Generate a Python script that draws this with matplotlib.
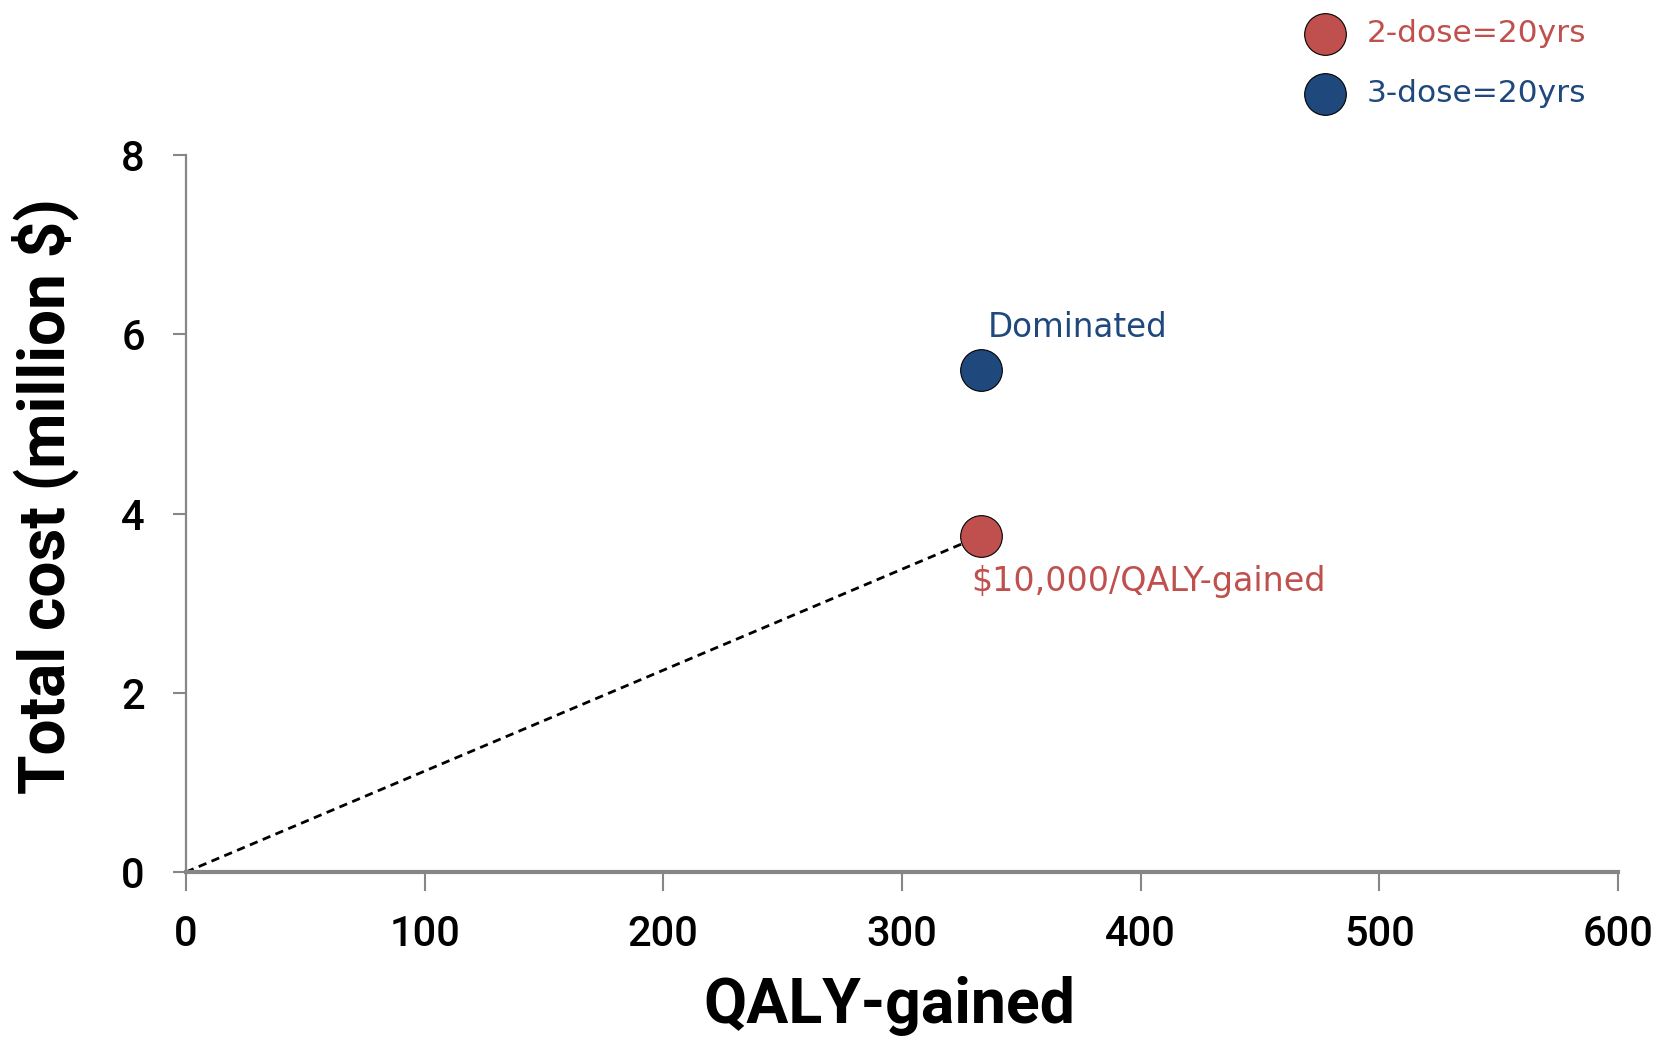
import matplotlib
matplotlib.use("Agg")
import matplotlib.pyplot as plt

# Data
series_names = ["2-dose=20yrs", "3-dose=20yrs"]
series_colors = ["#C0504D", "#1F497D"]
qaly_gained = [333, 333]
total_cost = [3.75, 5.6]
annotations = ["$10,000/QALY-gained", "Dominated"]

x_ticks = [0, 100, 200, 300, 400, 500, 600]
y_ticks = [0, 2, 4, 6, 8]

axis_gray = "#868686"

fig = plt.figure(figsize=(16.6, 10.4), dpi=100)
ax = fig.add_axes([0.112, 0.1615, 0.8627, 0.6895])

# Dashed line from origin to the 2-dose point
ax.plot([0, qaly_gained[0]], [0, total_cost[0]], linestyle=(0, (3, 2)),
        color="black", linewidth=2.0, zorder=2)

# Points
for name, color, x, y in zip(series_names, series_colors, qaly_gained, total_cost):
    ax.scatter([x], [y], s=900, color=color, edgecolors="black",
               linewidths=0.8, label=name, zorder=3, clip_on=False)

# Point labels
ax.annotate(annotations[0], xy=(qaly_gained[0], total_cost[0]),
            xytext=(-6.5, -33), textcoords="offset points",
            ha="left", va="center", fontsize=24, color=series_colors[0],
            family="DejaVu Sans")
ax.annotate(annotations[1], xy=(qaly_gained[1], total_cost[1]),
            xytext=(5, 31), textcoords="offset points",
            ha="left", va="center", fontsize=23.5, color=series_colors[1],
            family="DejaVu Sans")

ax.set_xlim(0, 600)
ax.set_ylim(0, 8)
ax.set_xticks(x_ticks)
ax.set_yticks(y_ticks)

for side in ["top", "right"]:
    ax.spines[side].set_visible(False)
ax.spines["bottom"].set_color(axis_gray)
ax.spines["bottom"].set_linewidth(3.0)
ax.spines["left"].set_color(axis_gray)
ax.spines["left"].set_linewidth(1.6)

ax.tick_params(axis="x", direction="out", length=14, width=1.5, color=axis_gray,
               pad=16, labelsize=30)
ax.tick_params(axis="y", direction="out", length=9.5, width=1.5, color=axis_gray,
               pad=20, labelsize=30)
for lbl in ax.get_xticklabels() + ax.get_yticklabels():
    lbl.set_family("Roboto")
    lbl.set_fontweight("medium")

ax.set_xlabel("QALY-gained", fontsize=45, fontweight="bold", family="Roboto",
              va="center")
ax.xaxis.set_label_coords(0.491, -0.187)
ax.set_ylabel("Total cost (million $)", fontsize=46, fontweight="bold",
              family="Roboto", va="center")
ax.yaxis.set_label_coords(-0.0985, 0.524)

# Legend at the top right
leg = fig.legend(loc="upper left", bbox_to_anchor=(0.766, 1.003), frameon=False,
                 markerscale=1.0, handletextpad=0.35,
                 labelspacing=1.0, borderaxespad=0.3,
                 prop={"family": "DejaVu Sans", "size": 22.5})
for txt, color in zip(leg.get_texts(), series_colors):
    txt.set_color(color)

fig.savefig("out.png", dpi=100)
